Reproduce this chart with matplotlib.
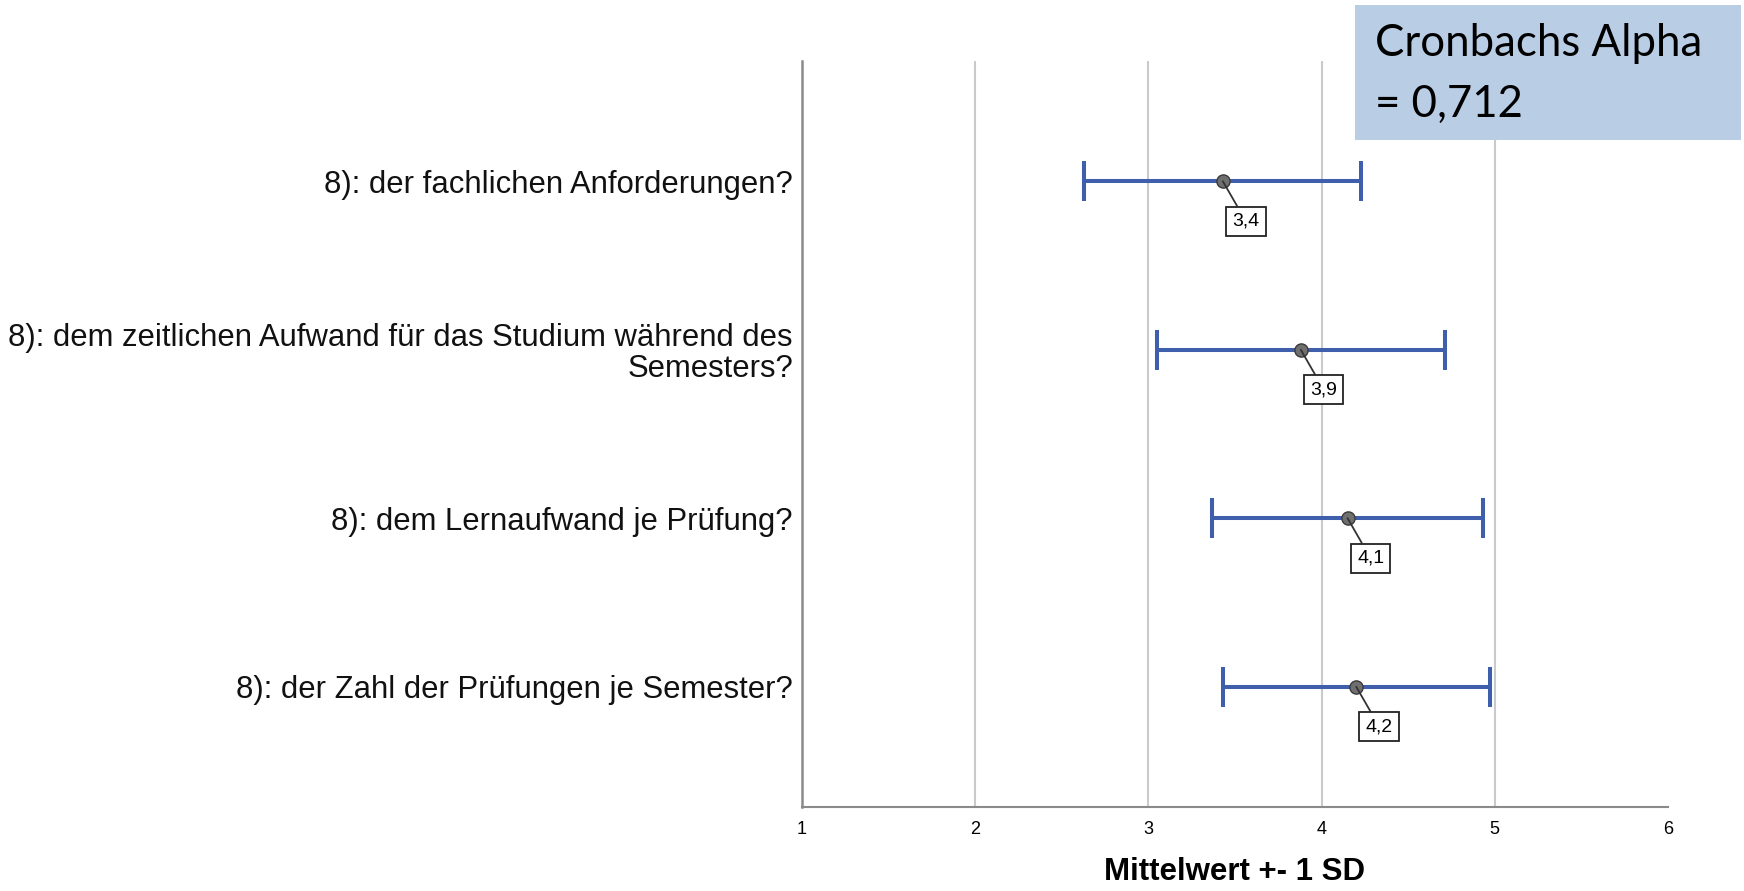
import matplotlib
matplotlib.use("Agg")
import matplotlib.pyplot as plt
from matplotlib.patches import Rectangle

# ---- data ----
categories = [
    "8): der fachlichen Anforderungen?",
    "8): dem zeitlichen Aufwand für das Studium während des\nSemesters?",
    "8): dem Lernaufwand je Prüfung?",
    "8): der Zahl der Prüfungen je Semester?",
]
means = [3.43, 3.88, 4.15, 4.20]
sds = [0.80, 0.83, 0.78, 0.77]
mean_labels = ["3,4", "3,9", "4,1", "4,2"]
x_ticks = [1, 2, 3, 4, 5, 6]
x_label = "Mittelwert +- 1 SD"
box_text = "Cronbachs Alpha\n= 0,712"

W, H = 1744, 891
fig = plt.figure(figsize=(W / 100, H / 100), dpi=100)
ax = fig.add_axes([802 / W, 1 - 807 / H, (1668 - 802) / W, (807 - 61) / H])

blue = "#3f5eab"
ypos = list(range(len(categories)))

ax.errorbar(means, ypos, xerr=sds, fmt="none", ecolor=blue, elinewidth=2.9,
            capsize=14.5, capthick=2.9, zorder=3)
ax.plot(means, ypos, linestyle="none", marker="o", markersize=9.5,
        markerfacecolor="#6f6f6f", markeredgecolor="#3a3a3a",
        markeredgewidth=1.0, zorder=4)

for m, y, lab in zip(means, ypos, mean_labels):
    ax.annotate(lab, xy=(m, y), xytext=(23, -40), textcoords="offset pixels",
                ha="center", va="center", fontsize=14,
                family="Liberation Sans", color="black",
                bbox=dict(boxstyle="square,pad=0.32", fc="white", ec="#222222", lw=1.3),
                arrowprops=dict(arrowstyle="-", color="#333333", lw=1.3,
                                shrinkA=0, shrinkB=0),
                zorder=5)

ax.set_xlim(1, 6)
ax.set_ylim(len(categories) - 1 + 0.714, -0.714)
ax.set_xticks(x_ticks)
ax.set_xticklabels([str(t) for t in x_ticks], family="Liberation Sans", fontsize=13)
ax.set_yticks(ypos)
ax.set_yticklabels(categories, family="Liberation Sans", fontsize=22.3,
                   color="#111111", linespacing=1.05)
ax.tick_params(axis="both", length=0)
ax.tick_params(axis="x", pad=10)
ax.tick_params(axis="y", pad=6.5)

for t in [2, 3, 4, 5]:
    ax.axvline(t, color="#cacaca", lw=1.5, zorder=1)

for s in ["top", "right"]:
    ax.spines[s].set_visible(False)
ax.spines["left"].set_color("#8a8a8a")
ax.spines["left"].set_linewidth(1.8)
ax.spines["bottom"].set_color("#8a8a8a")
ax.spines["bottom"].set_linewidth(1.5)

ax.set_xlabel(x_label, family="Liberation Sans", fontsize=22.5, fontweight="bold",
              labelpad=14)

# Cronbach box
fig.patches.append(Rectangle((1355 / W, 1 - 140 / H), (1741 - 1355) / W,
                             (140 - 5) / H, transform=fig.transFigure,
                             facecolor="#b9cde5", edgecolor="none", zorder=10))
fig.text(1375 / W, 1 - 74 / H, box_text, family="Lato", fontsize=31.5,
         ha="left", va="center", linespacing=1.62, color="black", zorder=11)

fig.savefig("out.png", dpi=100)
